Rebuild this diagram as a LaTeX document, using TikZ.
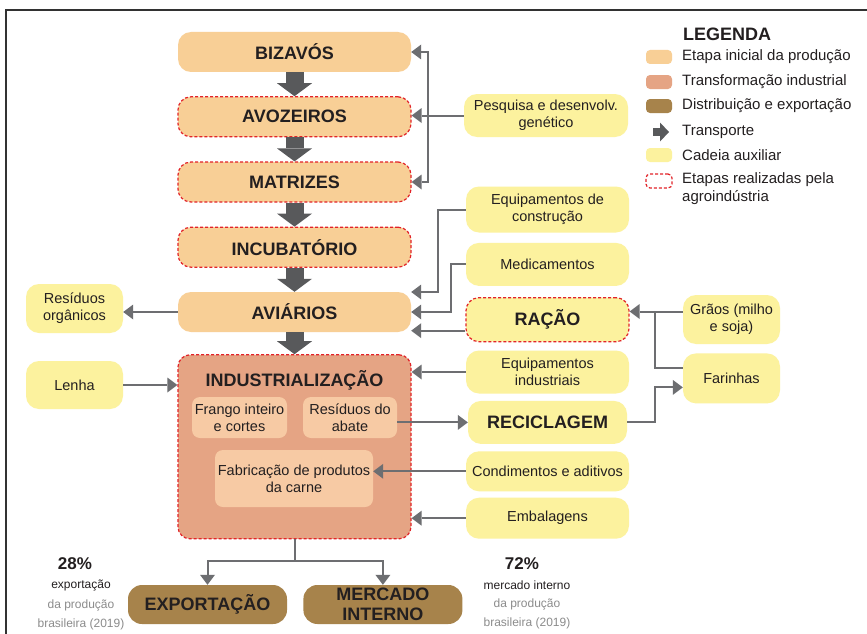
\documentclass[tikz,border=0pt]{standalone}
\usepackage{fontspec}
\setmainfont{Liberation Sans}
\usepackage{tikz}
\usetikzlibrary{arrows.meta,positioning,calc}

\definecolor{etapa}{RGB}{248,207,150}
\definecolor{indust}{RGB}{229,164,132}
\definecolor{subpeach}{RGB}{247,202,164}
\definecolor{distbrown}{RGB}{167,131,75}
\definecolor{auxyellow}{RGB}{252,242,158}
\definecolor{arrowgray}{RGB}{88,89,91}
\definecolor{linegray}{RGB}{109,110,113}
\definecolor{dashred}{RGB}{226,35,40}
\definecolor{textdark}{RGB}{35,31,32}
\definecolor{textgray}{RGB}{140,140,140}
\definecolor{framegray}{RGB}{50,50,50}

\newcommand{\headfont}{\bfseries\fontsize{18}{20}\selectfont}
\newcommand{\auxfont}{\fontsize{14.5}{17}\selectfont}
\newcommand{\legfont}{\fontsize{15}{18}\selectfont}
\newcommand{\notefont}{\fontsize{12}{19}\selectfont}

\tikzset{
	every node/.style={text=textdark},
	etapabox/.style={
		rectangle, rounded corners=13pt, fill=etapa,
		minimum width=233pt, minimum height=40pt, inner sep=0pt, font=\headfont
	},
	%
	agro/.style={
		draw=dashred, line width=1.2pt, dash pattern=on 3pt off 2pt
	},
	%
	auxbox/.style={
		rectangle, rounded corners=13pt, fill=auxyellow,
		minimum width=163pt, minimum height=43pt, inner sep=0pt,
		align=center, font=\auxfont
	},
	%
	subbox/.style={
		rectangle, rounded corners=8pt, fill=subpeach,
		inner sep=0pt, align=center, font=\auxfont
	},
	%
	distbox/.style={
		rectangle, rounded corners=14pt, fill=distbrown,
		minimum width=159pt, minimum height=39pt, inner sep=0pt,
		align=center, font=\headfont
	},
	%
	swatch/.style={
		rectangle, rounded corners=4pt, minimum width=26pt, minimum height=14pt, inner sep=0pt
	},
	%
	bigarrow/.style={
		draw=arrowgray, line width=18pt, -{Triangle[width=35pt,length=13pt,line width=0pt]}
	},
	%
	thinarrow/.style={
		draw=linegray, line width=2pt, -{Triangle[width=15pt,length=10pt,line width=0pt]}
	},
	%
	thinline/.style={draw=linegray, line width=2pt}
}

\begin{document}
\begin{tikzpicture}[x=1pt,y=-1pt]
\fill[white] (0,0) rectangle (867,634);
\useasboundingbox (0,0) rectangle (867,634);
\draw[framegray, line width=1.2pt] (5,10) -- (867,10);
\draw[framegray, line width=1.2pt] (6,10) -- (6,634);

%main chain
\node (biz) [etapabox] at (294.5,52) {BIZAVÓS};
\node (avo) [etapabox, agro, below=24pt of biz] {AVOZEIROS};
\node (matr) [etapabox, agro, below=24pt of avo] {MATRIZES};
\node (incub) [etapabox, agro, below=24pt of matr] {INCUBATÓRIO};
\node (avi) [etapabox, below=24pt of incub] {AVIÁRIOS};
\node (ind) [rectangle, rounded corners=12pt, fill=indust, agro, minimum width=233pt,
	minimum height=184pt, inner sep=0pt, below=22pt of avi] {};
\node (indt) [font=\headfont, inner sep=0pt] at ($(ind.north)+(0,26)$) {INDUSTRIALIZAÇÃO};
\node (frango) [subbox, minimum width=95pt, minimum height=41pt] at (239.5,417.5) {Frango inteiro\\e cortes};
\node (abate) [subbox, minimum width=94pt, minimum height=41pt] at (350,417.5) {Resíduos do\\abate};
\node (fab) [subbox, minimum width=158pt, minimum height=57pt] at (294,478.5) {Fabricação de produtos\\da carne};

%left side
\node (res) [auxbox, minimum width=97pt, minimum height=49pt] at (74.5,308.5) {Resíduos\\orgânicos};
\node (lenha) [auxbox, minimum width=97pt, minimum height=48pt] at (74.5,385) {Lenha};

%right side
\node (pesq) [auxbox, minimum width=164pt] at (546,115.5) {Pesquisa e desenvolv.\\genético};
\node (eqc) [auxbox, minimum height=46pt] at (547.5,209.5) {Equipamentos de\\construção};
\node (med) [auxbox, below=10pt of eqc] {Medicamentos};
\node (racao) [auxbox, agro, minimum height=44pt, font=\headfont, below=11pt of med] {RAÇÃO};
\node (eqi) [auxbox, below=8pt of racao] {Equipamentos\\industriais};
\node (recic) [auxbox, minimum width=159pt, font=\headfont, below=7pt of eqi] {RECICLAGEM};
\node (cond) [auxbox, minimum height=40pt, below=7pt of recic] {Condimentos e aditivos};
\node (emb) [auxbox, minimum height=41pt, below=6pt of cond] {Embalagens};
\node (graos) [auxbox, minimum width=97pt, minimum height=49pt] at (731.5,319.5) {Grãos (milho\\e soja)};
\node (far) [auxbox, minimum width=97pt, minimum height=50pt, below=9pt of graos] {Farinhas};

%destinos
\node (exp) [distbox] at (207.5,604.5) {EXPORTAÇÃO};
\node (merc) [distbox, right=16pt of exp] {MERCADO\\INTERNO};
\node (pct28) [font=\bfseries\fontsize{17}{19}\selectfont] at (75,564) {28\%};
\node (txt28) [font=\notefont] at (81,585) {exportação};
\node (src28) [font=\notefont, text=textgray, align=center, below=2pt of txt28] {da produção\\brasileira (2019)};
\node (pct72) [font=\bfseries\fontsize{17}{19}\selectfont] at (522,564) {72\%};
\node (txt72) [font=\notefont] at (527,585) {mercado interno};
\node (src72) [font=\notefont, text=textgray, align=center, below=2pt of txt72] {da produção\\brasileira (2019)};

%legend
\node (leg) [font=\headfont, anchor=west, inner sep=0pt] at (683,34) {LEGENDA};
\foreach \c/\t/\y in {etapa/Etapa inicial da produção/57, indust/Transformação industrial/82,
	distbrown/Distribuição e exportação/106, auxyellow/Cadeia auxiliar/155}{
	\node (sw\c) [swatch, fill=\c] at (659,\y) {};
	\node [font=\legfont, anchor=west, inner sep=0pt] at (682,\y) {\t};
}
\draw[draw=arrowgray, line width=8pt, -{Triangle[width=19pt,length=9pt,line width=0pt]}] (653,132) -- (669,132);
\node (legarr) [font=\legfont, anchor=west, inner sep=0pt] at (682,132) {Transporte};
\node (swagro) [swatch, agro] at (659,181) {};
\node (legagro) [font=\legfont, anchor=west, inner sep=0pt, align=left] at (682,189) {Etapas realizadas pela\\agroindústria};

%transport arrows
\draw[bigarrow] (biz) -- (avo);
\draw[bigarrow] (avo) -- (matr);
\draw[bigarrow] (matr) -- (incub);
\draw[bigarrow] (incub) -- (avi);
\draw[bigarrow] (avi) -- (ind);

%auxiliary chain
\draw[thinarrow] (pesq.west) -- ++(-36,0) |- (biz.east);
\draw[thinarrow] (pesq.west) -- ++(-36,0) |- (matr.east);
\draw[thinarrow] (pesq.west) -- (pesq.west -| avo.east);
\draw[thinarrow] (eqc.west) -- ++(-28,0) |- ([yshift=20pt]avi.east);
\draw[thinarrow] (med.west) -- ++(-15,0) |- (avi.east);
\draw[thinarrow] ([yshift=-11pt]racao.west) -- ([yshift=-11pt]racao.west -| avi.east);
\draw[thinarrow] (eqi.west) -- (eqi.west -| ind.east);
\draw[thinarrow] (recic.west -| abate.east) -- (recic.west);
\draw[thinarrow] (recic.east) -- ++(28,0) |- ([yshift=-9pt]far.west);
\draw[thinarrow] ([yshift=8pt]graos.west) -- ([yshift=8pt]graos.west -| racao.east);
\draw[thinline] ([yshift=10pt]far.west) -- ++(-28,0) |- ([yshift=8pt]graos.west);
\draw[thinarrow] (cond.west) -- (cond.west -| fab.east);
\draw[thinarrow] (emb.west) -- (emb.west -| ind.east);
\draw[thinarrow] (avi.west) -- (avi.west -| res.east);
\draw[thinarrow] (lenha.east) -- (lenha.east -| ind.west);

%output
\draw[thinarrow] (ind.south) -- ++(0,22) -| (exp.north);
\draw[thinarrow] (ind.south) -- ++(0,22) -| (merc.north);

\end{tikzpicture}
\end{document}
